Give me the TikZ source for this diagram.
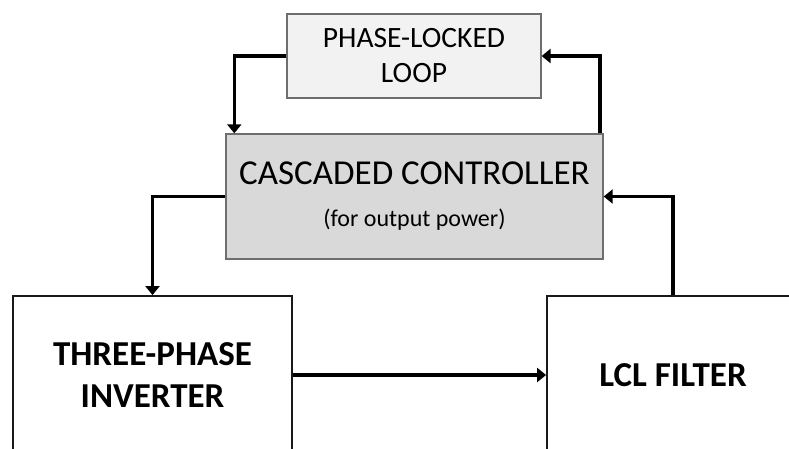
\documentclass[tikz,border=0pt]{standalone}
\usepackage{fontspec}
\setmainfont{Carlito}
\usetikzlibrary{arrows.meta,calc}
\definecolor{pllfill}{HTML}{F2F2F2}
\definecolor{ctrlfill}{HTML}{D9D9D9}
\definecolor{boxline}{HTML}{6E6E6E}
\tikzset{
  block/.style={draw, rectangle, inner sep=0pt, align=center, text=black},
  lightblock/.style={block, fill=pllfill, draw=boxline, line width=1.2pt},
  greyblock/.style={block, fill=ctrlfill, draw=boxline, line width=1.4pt},
  powerblock/.style={block, fill=white, draw=black!90, line width=1.8pt},
  link/.style={draw=black, line width=3.6pt, -{Triangle[width=14pt,length=9pt]}},
}
\begin{document}
\begin{tikzpicture}[x=1pt, y=-1pt]
\useasboundingbox (0,0) rectangle (789,448);
\clip (0,0) rectangle (789,448);
\fill[white] (0,0) rectangle (789,448);

% control blocks
\node[lightblock, minimum width=254pt, minimum height=84pt,
      font=\fontsize{29.5}{35}\selectfont] (pll) at (414,56)
  {PHASE-LOCKED\\LOOP};
\node[greyblock, minimum width=377pt, minimum height=125pt,
      font=\fontsize{35}{42}\selectfont] (ctrl) at (414.5,196.5)
  {CASCADED CONTROLLER\\{\fontsize{24}{29}\selectfont (for output power)}};

% power stage blocks (partly outside the frame)
\node[powerblock, minimum width=279pt, minimum height=158pt,
      font=\fontsize{35}{42}\selectfont\bfseries] (inv) at (152.5,375)
  {THREE-PHASE\\INVERTER};
\node[powerblock, minimum width=252pt, minimum height=158pt,
      font=\fontsize{35}{42}\selectfont\bfseries] (lcl) at (673,375)
  {LCL FILTER};

% anchor points on the controller top edge for the PLL loop
\coordinate (pllin) at ($(ctrl.north west)+(9,0)$);
\coordinate (pllout) at ($(ctrl.north east)+(-4,0)$);

% signal connectors
\draw[link] (pll.west) -| (pllin);
\draw[link] (pllout) |- (pll.east);
\draw[link] (ctrl.west) -| (inv.north);
\draw[link] (lcl.north) |- (ctrl.east);
\draw[link] (inv.east) -- (lcl.west);
\end{tikzpicture}
\end{document}
